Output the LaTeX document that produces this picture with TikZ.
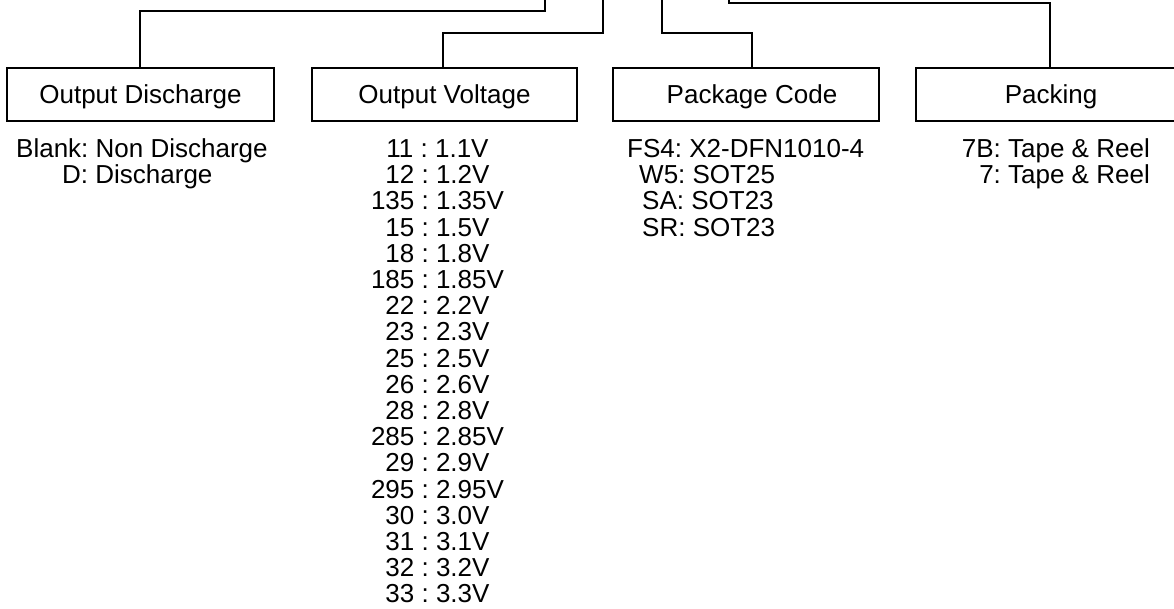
\documentclass[tikz,border=0pt]{standalone}
\usepackage{fontspec}
\setmainfont{Liberation Sans}
\frenchspacing
\tikzset{
  x=1pt, y=-1pt,
  wire/.style={draw=black, line width=1.2pt},
  boxnode/.style={draw=black, line width=1.3pt, rectangle, inner sep=0pt,
    minimum height=53pt, text height=18.6pt, text depth=0pt,
    font=\fontsize{26}{26}\selectfont},
  listtext/.style={inner sep=0pt, font=\fontsize{26}{26}\selectfont}
}
\begin{document}
\begin{tikzpicture}
\useasboundingbox (0,0) rectangle (1174,608);
% boxes
\node[boxnode, minimum width=267pt] (b1) at (140.5,94.5) {Output Discharge};
\node[boxnode, minimum width=265pt] (b2) at (444.5,94.5) {Output Voltage};
\node[boxnode, minimum width=266pt] (b3) at (746,94.5) {\hspace{12pt}Package Code};
\node[boxnode, minimum width=270pt] (b4) at (1051,94.5) {Packing};
% free ends at the top
\coordinate (t1) at (545,-2);
\coordinate (t2) at (603,-2);
\coordinate (t3) at (662,-2);
\coordinate (t4) at (729,-2);
% connectors
\draw[wire] (t1) |- (140,11) -- (b1.north -| 140,0);
\draw[wire] (t2) |- (443,33) -- (b2.north -| 443,0);
\draw[wire] (t3) |- (752,33) -- (b3.north -| 752,0);
\draw[wire] (t4) |- (1050,3) -- (b4.north -| 1050,0);
% output discharge list
\node[listtext, anchor=base west] (d1) at (16,157.5) {Blank: Non Discharge};
\node[listtext, anchor=base west] (d2) at (62,183.7) {D: Discharge};
% output voltage list
\foreach \t [count=\i] in {11 : 1.1V, 12 : 1.2V, 135 : 1.35V, 15 : 1.5V, 18 : 1.8V,
  185 : 1.85V, 22 : 2.2V, 23 : 2.3V, 25 : 2.5V, 26 : 2.6V, 28 : 2.8V, 285 : 2.85V,
  29 : 2.9V, 295 : 2.95V, 30 : 3.0V, 31 : 3.1V, 32 : 3.2V, 33 : 3.3V}
  \node[listtext, anchor=base] (v\i) at (437.5,{157.5+(\i-1)*26.2}) {\t};
% package code list
\node[listtext, anchor=base west] (p1) at (627,157.5) {FS4: X2-DFN1010-4};
\node[listtext, anchor=base west] (p2) at (639,183.7) {W5: SOT25};
\node[listtext, anchor=base west] (p3) at (642,209.9) {SA: SOT23};
\node[listtext, anchor=base west] (p4) at (642,236.1) {SR: SOT23};
% packing list
\node[listtext, anchor=base east] (k1) at (1150,157.5) {7B: Tape \& Reel};
\node[listtext, anchor=base east] (k2) at (1150,183.7) {7: Tape \& Reel};
\end{tikzpicture}
\end{document}
